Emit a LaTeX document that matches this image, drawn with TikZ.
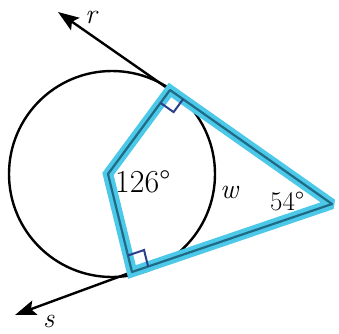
\documentclass[tikz,border=0pt]{standalone}
\usetikzlibrary{arrows.meta,calc}
\definecolor{hlcol}{HTML}{4CC8E8}
\definecolor{incol}{HTML}{1F6A85}
\definecolor{rmcol}{HTML}{2B3F8C}
\begin{document}
\begin{tikzpicture}[x=1pt,y=-1pt,
  blk/.style={line width=2.4pt,black},
  hlline/.style={line width=10.5pt,hlcol,line join=miter,miter limit=2},
  inline/.style={line width=2.2pt,incol,line join=round},
  tang/.style={line width=2.4pt,black,-{Stealth[length=21pt,width=15pt,inset=4pt]}},
  lbl/.style={inner sep=0pt,anchor=base west},
  rmark/.style={line width=2pt,rmcol}]
\useasboundingbox (0,0) rectangle (339,333);
\coordinate (C) at (112,174);
\coordinate (O) at (108,174);
\coordinate (A) at (170,90);
\coordinate (B) at (132,272);
\coordinate (P) at (332,204);
\coordinate (rt) at (58,12);
\coordinate (st) at (15,315);
\draw[blk] (C) circle (103);
\draw[tang] (A) -- (rt);
\draw[tang] (B) -- (st);
\draw[hlline] (O) -- (A) -- (P) -- (B) -- cycle;
\draw[inline] (O) -- (A) -- (P) -- (B) -- cycle;
% right-angle marks
\draw[rmark] ($(A)!16pt!(O)$) -- ($($(A)!16pt!(O)$)+($(A)!16pt!(P)$)-(A)$) -- ($(A)!16pt!(P)$);
\draw[rmark] ($(B)!17pt!(O)$) -- ($($(B)!17pt!(O)$)+($(B)!17pt!(P)$)-(B)$) -- ($(B)!17pt!(P)$);
\node[lbl,font=\fontsize{32}{34}\selectfont] (ang1) at (115,192) {126\textdegree};
\node[lbl,font=\fontsize{27}{29}\selectfont] (ang2) at (270,210) {54\textdegree};
\node[lbl,font=\fontsize{28}{30}\selectfont\itshape] (w) at (220,198) {w};
\node[lbl,font=\fontsize{28}{30}\selectfont\itshape] (r) at (85,23) {r};
\node[lbl,font=\fontsize{28}{30}\selectfont\itshape] (s) at (43,327) {s};
\end{tikzpicture}
\end{document}
